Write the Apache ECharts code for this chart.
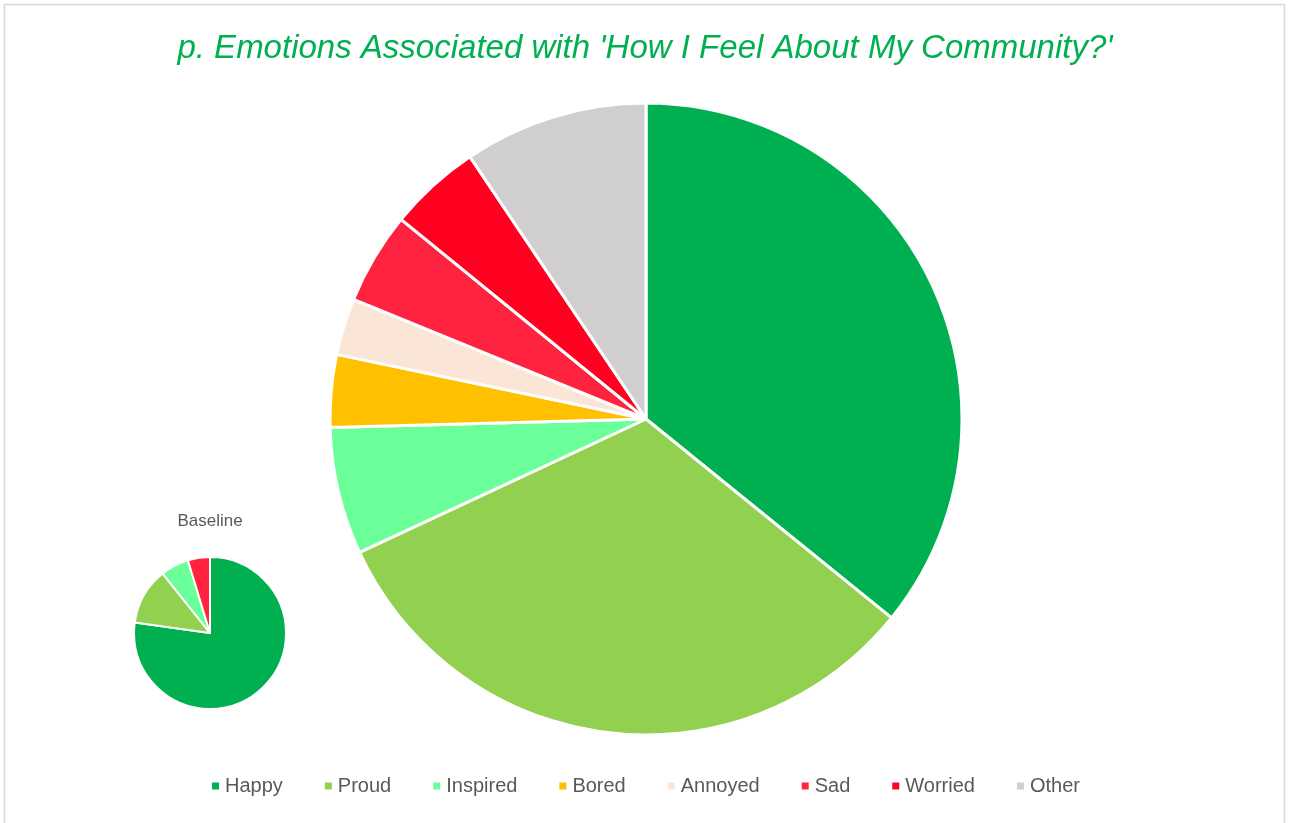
<!DOCTYPE html>
<html>
<head>
<meta charset="utf-8">
<script src="https://cdn.jsdelivr.net/npm/echarts@6/dist/echarts.min.js"></script>
<style>html,body{margin:0;padding:0;background:#fff;}#c{width:1290px;height:823px;}</style>
</head>
<body>
<div id="c"></div>
<script>
const categories = ['Happy','Proud','Inspired','Bored','Annoyed','Sad','Worried','Other'];
const communityValues = [35.8, 32.2, 6.5, 3.7, 2.9, 4.7, 4.7, 9.4];
const baselineValues = [77.2, 12.1, 6.0, 0, 0, 4.7, 0, 0];
const colors = ['#00B050','#92D050','#6BFF99','#FFC000','#FBE5D6','#FF2340','#FF0020','#D0CECE'];

const fontFam = 'Liberation Sans, Arial, sans-serif';
function build(vals){
  const out = [];
  vals.forEach((v,i)=>{ if(v>0) out.push({name:categories[i], value:v, itemStyle:{color:colors[i]}}); });
  return out;
}
const chart = echarts.init(document.getElementById('c'), null, {renderer:'canvas'});
chart.setOption({
  animation:false,
  backgroundColor:'#fff',
  graphic:[{type:'rect', shape:{x:4.5,y:4.5,width:1280,height:840}, style:{fill:'none', stroke:'#D9D9D9', lineWidth:1.5}, silent:true},
           {type:'text', x:210, y:521, style:{text:'Baseline', fill:'#595959', font:'17px '+fontFam, align:'center', verticalAlign:'middle'}}],
  title:{text:"p. Emotions Associated with 'How I Feel About My Community?'", left:'center', top:27,
    textStyle:{color:'#00B050', fontStyle:'italic', fontWeight:'normal', fontSize:33, fontFamily:fontFam}},
  legend:{data:categories, bottom:22, left:'center', icon:'rect', itemWidth:9, itemHeight:9, itemGap:40,
    textStyle:{color:'#595959', fontSize:20, fontFamily:fontFam}},
  series:[
    {type:'pie', name:'Community', center:[646,419], radius:316, startAngle:90, clockwise:true,
     label:{show:false}, labelLine:{show:false}, itemStyle:{borderColor:'#fff', borderWidth:3}, emphasis:{disabled:true},
     data: build(communityValues)},
    {type:'pie', name:'Baseline', center:[210,633], radius:76, startAngle:90, clockwise:true,
     label:{show:false}, labelLine:{show:false}, itemStyle:{borderColor:'#fff', borderWidth:2}, emphasis:{disabled:true},
     data: build(baselineValues)}
  ]
});
</script>
</body>
</html>
